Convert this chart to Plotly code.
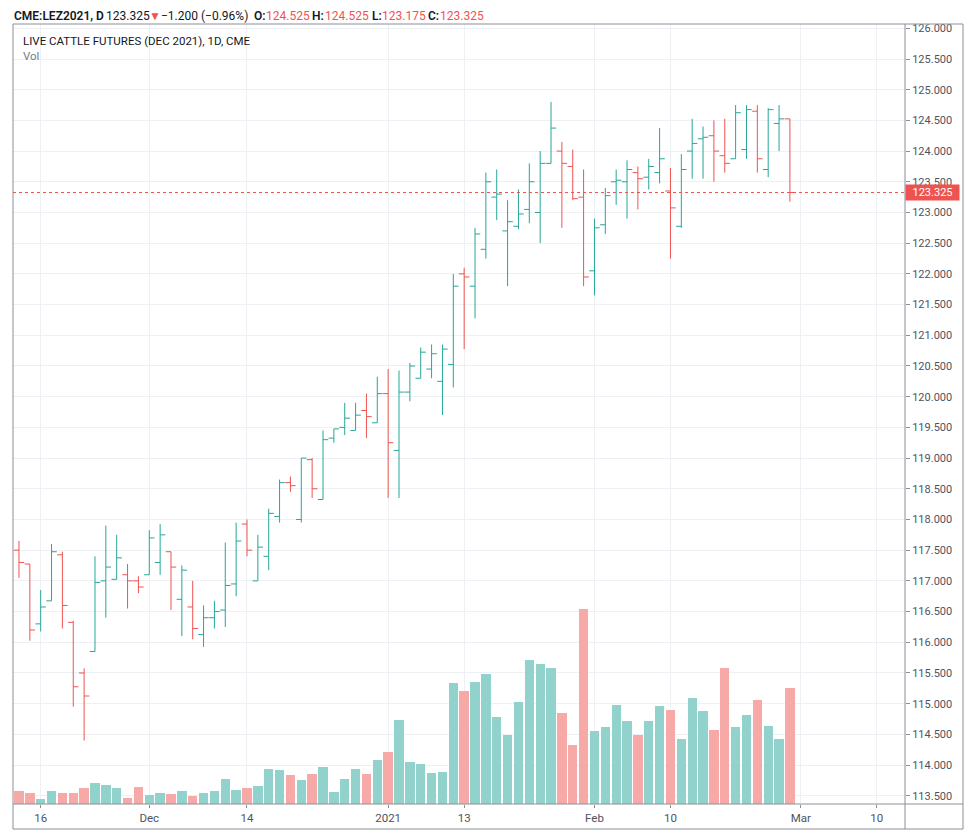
import numpy as np
import pandas as pd
import plotly.graph_objects as go

# ---------------- data ----------------
symbol = "CME:LEZ2021"
interval = "D"
series_title = "LIVE CATTLE FUTURES (DEC 2021), 1D, CME"
volume_label = "Vol"

holidays = ["2020-11-26", "2020-12-25", "2021-01-01", "2021-01-18", "2021-02-15"]
trading_days = [d.strftime("%Y-%m-%d") for d in
                pd.bdate_range("2020-11-12", "2021-02-26", freq="C", holidays=holidays)]

opens = [117.500, 117.275, 116.300, 116.675, 117.425, 116.325, 115.500, 115.850, 117.000, 117.025,
         117.100, 117.000, 117.100, 117.300, 117.475, 116.700, 116.575, 116.125, 116.400, 116.525,
         116.950, 117.925, 117.000, 117.400, 118.050, 118.600, 118.000, 118.975, 118.325, 119.325,
         119.500, 119.450, 119.775, 119.575, 120.050, 119.125, 120.075, 120.300, 120.450, 120.250,
         120.525, 122.000, 121.800, 122.400, 123.250, 122.700, 122.775, 123.050, 123.000, 123.800,
         124.000, 123.750, 123.250, 122.050, 122.800, 123.500, 123.500, 123.650, 123.575, 123.650,
         123.350, 122.775, 124.000, 124.200, 124.250, 123.925, 123.875, 124.025, 124.650, 123.700,
         124.450, 124.525]
highs = [117.650, 117.275, 116.850, 117.600, 117.475, 116.350, 115.575, 117.400, 117.900, 117.750,
         117.275, 117.075, 117.825, 117.925, 117.475, 117.250, 117.000, 116.600, 116.675, 117.625,
         117.950, 118.000, 117.750, 118.175, 118.650, 118.700, 119.000, 119.000, 119.450, 119.475,
         119.900, 119.900, 120.050, 120.325, 120.450, 120.425, 120.550, 120.800, 120.850, 120.850,
         122.000, 122.100, 122.750, 123.650, 123.700, 123.200, 123.375, 123.800, 124.000, 124.800,
         124.150, 124.025, 123.700, 122.900, 123.400, 123.700, 123.850, 123.750, 123.875, 124.375,
         123.725, 123.950, 124.525, 124.400, 124.500, 124.525, 124.750, 124.750, 124.750, 124.700,
         124.750, 124.525]
lows = [117.050, 116.025, 116.175, 116.675, 116.225, 114.950, 114.400, 115.850, 116.400, 117.025,
        116.550, 116.800, 117.100, 117.100, 116.525, 116.100, 116.050, 115.925, 116.225, 116.250,
        116.750, 117.400, 117.000, 117.175, 117.950, 118.450, 117.950, 118.350, 118.325, 119.250,
        119.375, 119.450, 119.325, 119.575, 118.350, 118.350, 119.925, 120.300, 120.300, 119.700,
        120.150, 120.775, 121.275, 122.250, 122.875, 121.800, 122.725, 122.825, 122.500, 123.800,
        122.750, 123.200, 121.800, 121.650, 122.650, 123.125, 122.900, 123.050, 123.375, 123.475,
        122.250, 122.750, 123.550, 123.550, 123.500, 123.650, 123.875, 123.875, 123.650, 123.575,
        124.000, 123.175]
closes = [117.300, 116.200, 116.575, 117.475, 116.600, 115.275, 115.125, 116.975, 117.225, 117.375,
          117.000, 116.900, 117.700, 117.750, 117.225, 117.175, 116.225, 116.400, 116.500, 116.925,
          117.650, 117.500, 117.550, 118.100, 118.600, 118.550, 119.000, 118.500, 119.300, 119.475,
          119.650, 119.700, 119.675, 120.050, 119.250, 120.075, 120.500, 120.725, 120.700, 120.775,
          121.800, 121.950, 122.650, 123.500, 123.300, 122.850, 122.975, 123.500, 123.800, 124.375,
          123.800, 123.225, 121.950, 122.750, 123.275, 123.525, 123.700, 123.550, 123.750, 123.875,
          123.075, 123.700, 124.125, 124.225, 124.000, 123.800, 124.625, 124.675, 123.875, 124.675,
          124.525, 123.325]
volumes = [133, 107, 50, 127, 107, 107, 160, 210, 190, 160,
           60, 170, 87, 110, 97, 127, 80, 107, 127, 253,
           143, 160, 180, 347, 337, 290, 243, 300, 373, 117,
           247, 347, 300, 440, 520, 837, 420, 400, 310, 320,
           1207, 1133, 1217, 1300, 867, 690, 1020, 1437, 1400, 1357,
           910, 587, 1950, 727, 773, 987, 827, 690, 827, 977,
           940, 650, 1060, 930, 737, 1357, 770, 893, 1043, 780,
           650, 1160]

tick_dates = ["2020-11-16", "2020-12-01", "2020-12-14", "2021-01-04", "2021-01-13",
              "2021-02-01", "2021-02-10", "2021-03-01", "2021-03-10"]
tick_labels = ["16", "Dec", "14", "2021", "13", "Feb", "10", "Mar", "10"]

price_ticks = [113.5 + 0.5 * k for k in range(26)]

# ---------------- styles ----------------
UP = "#26a69a"
DOWN = "#ef5350"
UP_VOL = "#92d2cc"
DOWN_VOL = "#f7a9a7"
GRID = "#edf0f4"
AXIS = "#8c8f98"
TEXT = "#131722"
TICKTXT = "#50535e"
FONT = "Roboto"

# trading-day scale (skips weekends and exchange holidays)
def tpos(d):
    return int(np.busday_count(np.datetime64(trading_days[0]), np.datetime64(d), holidays=holidays))

xs = [tpos(d) for d in trading_days]
tick_x = [tpos(d) for d in tick_dates]
vol_colors = [UP_VOL if c >= o else DOWN_VOL for o, c in zip(opens, closes)]

fig = go.Figure()
fig.add_trace(go.Bar(x=xs, y=volumes, marker=dict(color=vol_colors, line=dict(width=0)),
                     width=0.86, yaxis="y", hoverinfo="skip"))
fig.add_trace(go.Ohlc(x=xs, open=opens, high=highs, low=lows, close=closes, yaxis="y2",
                      increasing=dict(line=dict(color=UP, width=1)),
                      decreasing=dict(line=dict(color=DOWN, width=1)),
                      tickwidth=0.48, hoverinfo="skip"))

last_o, last_h, last_l, last_c = opens[-1], highs[-1], lows[-1], closes[-1]
chg = last_c - closes[-2]
pct = chg / closes[-2] * 100
sign = "−" if chg < 0 else "+"

# header pieces: (x offset px from plot-left, text, colour, weight, size, extra y shift)
header_parts = [
    (0, f"{symbol}, {interval}", TEXT, 600, 12, 0),
    (92, f"{last_c:.3f}", TEXT, 400, 12, 0),
    (135, "▼" if chg < 0 else "▲", DOWN if chg < 0 else UP, 400, 12, 0),
    (147, f"{sign}{abs(chg):.3f} ({sign}{abs(pct):.2f}%)", TEXT, 400, 12, 0),
    (240, "O:", TEXT, 600, 12, 0), (252, f"{last_o:.3f}", DOWN, 400, 12, 0),
    (298, "H:", TEXT, 600, 12, 0), (311, f"{last_h:.3f}", DOWN, 400, 12, 0),
    (358, "L:", TEXT, 600, 12, 0), (368, f"{last_l:.3f}", DOWN, 400, 12, 0),
    (414, "C:", TEXT, 600, 12, 0), (426, f"{last_c:.3f}", DOWN, 400, 12, 0),
]

# page body has an 8px margin; compensate so the chart lands where intended
OFF = 8
W, H = 972 - OFF, 834 - OFF
ml, mt = 13 - OFF, 24 - OFF
plot_right, plot_bottom = 905 - OFF, 804 - OFF
mr, mb = W - plot_right, H - plot_bottom
pw = plot_right - ml
ph = plot_bottom - mt
frame_right = (963 - OFF - ml) / pw
frame_bottom = -(829 - 804) / ph

annotations = []
for dx, txt, col, wt, sz, dy in header_parts:
    annotations.append(dict(xref="paper", yref="paper", x=0, y=1, xanchor="left", yanchor="top",
                            xshift=dx, yshift=mt + dy, text=txt, borderpad=0,
                            showarrow=False, font=dict(family=FONT, size=sz, color=col, weight=wt)))
annotations += [
    dict(xref="paper", yref="paper", x=0, y=1, xanchor="left", yanchor="middle",
         xshift=8, yshift=-17, text=series_title, showarrow=False,
         font=dict(family=FONT, size=11.5, color=TEXT)),
    dict(xref="paper", yref="paper", x=0, y=1, xanchor="left", yanchor="middle",
         xshift=8, yshift=-32, text=volume_label, showarrow=False,
         font=dict(family=FONT, size=11.5, color="#787b86")),
    dict(xref="paper", yref="y2", x=1, y=last_c, xanchor="left", yanchor="middle",
         text=f"{last_c:.3f}", showarrow=False, bgcolor=DOWN, borderpad=2,
         width=49, height=11, align="center",
         font=dict(family=FONT, size=11, color="white")),
]

fig.update_layout(
    width=W, height=H,
    margin=dict(l=ml, r=mr, t=mt, b=mb, pad=0, autoexpand=False),
    paper_bgcolor="white", plot_bgcolor="white",
    showlegend=False,
    font=dict(family=FONT, size=11, color=TICKTXT),
    bargap=0,
    xaxis=dict(range=[-0.55, 81.6], tickmode="array", tickvals=tick_x, ticktext=tick_labels,
               showgrid=True, gridcolor=GRID, gridwidth=1, zeroline=False,
               showline=False, ticks="outside", ticklen=3, tickcolor=AXIS,
               tickfont=dict(family=FONT, size=11.5, color=TICKTXT),
               rangeslider=dict(visible=False), fixedrange=True),
    yaxis=dict(range=[0, max(volumes) / 0.25], visible=False, showgrid=False, zeroline=False),
    yaxis2=dict(overlaying="y", side="right", range=[113.366, 126.07],
                tickmode="array", tickvals=price_ticks, tickformat=".3f",
                showgrid=True, gridcolor=GRID, gridwidth=1, zeroline=False,
                showline=False, ticks="outside", ticklen=4, tickcolor=AXIS,
                tickfont=dict(family=FONT, size=11, color=TICKTXT)),
    shapes=[
        dict(type="rect", xref="paper", yref="paper", x0=0, x1=frame_right, y0=frame_bottom, y1=1,
             line=dict(color=AXIS, width=1)),
        dict(type="line", xref="paper", yref="paper", x0=1, x1=1, y0=frame_bottom, y1=1,
             line=dict(color=AXIS, width=1)),
        dict(type="line", xref="paper", yref="paper", x0=0, x1=frame_right, y0=0, y1=0,
             line=dict(color=AXIS, width=1)),
        dict(type="line", xref="paper", yref="y2", x0=0, x1=1, y0=last_c, y1=last_c,
             line=dict(color=DOWN, width=1, dash="dot")),
    ],
    annotations=annotations,
)

fig.write_html("out.html")
